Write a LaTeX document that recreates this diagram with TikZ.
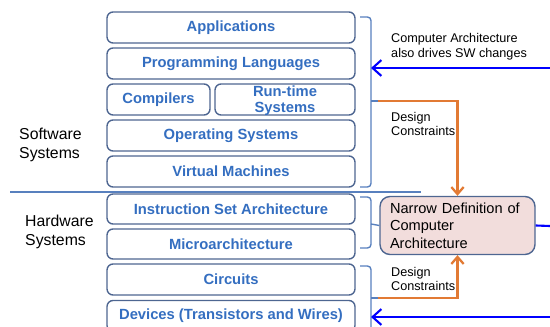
\documentclass[tikz,border=0pt]{standalone}
\usepackage{fontspec}
\setmainfont{Liberation Sans}
\usetikzlibrary{arrows.meta}
\definecolor{boxline}{RGB}{78,102,145}
\definecolor{boxtext}{RGB}{52,110,192}
\definecolor{brack}{RGB}{88,128,190}
\definecolor{orng}{RGB}{226,122,52}
\definecolor{pinkfill}{RGB}{242,221,220}

\begin{document}
\begin{tikzpicture}[x=0.02cm,y=-0.02cm,
    layertext/.style={inner sep=0pt,text=boxtext,align=center,
      font=\bfseries\fontsize{8.4}{9}\selectfont},
    layer/.style={layertext,draw=boxline,line width=0.8pt,rounded corners=0.12cm,
      minimum width=4.96cm,minimum height=0.62cm},
    hwlayer/.style={layer,minimum height=0.6cm},
    side/.style={anchor=west,align=left,font=\fontsize{9}{10.8}\selectfont},
    note/.style={anchor=west,align=left,font=\fontsize{7.2}{8.5}\selectfont},
    bracket/.style={draw=brack,line width=0.8pt,rounded corners=2pt},
    bluearrow/.style={draw=blue,line width=1.2pt,arrows={-Straight Barb[length=5pt,width=9pt]}},
    orangearrow/.style={draw=orng,line width=1.3pt,arrows={-Straight Barb[length=4pt,width=7pt]}}]
  \clip (0,0) rectangle (550,327);

  % software layers
  \node[layer] (apps) at (231,27.5) {Applications};
  \node[layer] (lang) at (231,63.5) {Programming Languages};
  \node[layer,minimum width=2.06cm] (comp) at (158.5,99.5) {Compilers};
  \node[layer,minimum width=2.8cm] (rts) at (285,99.5) {};
  \node[layertext] (rtstext) at (285,100.5) {Run-time\\Systems};
  \node[layer] (os) at (231,135.5) {Operating Systems};
  \node[layer] (vm) at (231,171.5) {Virtual Machines};

  % hardware layers
  \node[hwlayer] (isa) at (231,209) {Instruction Set Architecture};
  \node[hwlayer] (march) at (231,244) {Microarchitecture};
  \node[layer] (circ) at (231,279.5) {Circuits};
  \node[layer] (dev) at (231,316) {Devices (Transistors and Wires)};

  \draw[brack,line width=0.6pt] (10,192) -- (421,192);

  \node[side] (sw) at (13,145) {Software\\Systems};
  \node[side] (hw) at (19,231.5) {Hardware\\Systems};

  \node[draw=boxline,line width=0.8pt,fill=pinkfill,rounded corners=0.2cm,
    minimum width=3.1cm,minimum height=1.16cm,text width=2.7cm,align=left,
    font=\fontsize{8.3}{9.9}\selectfont] (narrow) at (457.5,225.5)
    {Narrow Definition of\\Computer\\Architecture};

  % brackets
  \draw[bracket] (360,17) -- (371,17) -- (371,187) -- (360,187);
  \draw[bracket] (360,197) -- (371,197) -- (371,248) -- (360,248);
  \draw[bracket] (360,266) -- (371,266) -- (371,340);
  \coordinate (swtick) at (378,101);
  \coordinate (hwtick) at (378,298);
  \draw[bracket] (371,101) -- (swtick);
  \draw[bracket] (371,298) -- (hwtick);
  \draw[bracket] (371,224) -- (narrow.west);

  \node[note] (drives) at (385,46.5) {Computer Architecture\\also drives SW changes};
  \node[note] (dc1) at (385,124) {Design\\Constraints};
  \node[note] (dc2) at (385,279) {Design\\Constraints};

  % arrows
  \coordinate (topin) at (550,68);
  \coordinate (topend) at (371,68);
  \coordinate (botin) at (550,317);
  \coordinate (botend) at (371,317);
  \coordinate (out) at (550,226);
  \draw[bluearrow] (topin) -- (topend);
  \draw[bluearrow] (botin) -- (botend);
  \draw[blue,line width=1.2pt] (narrow.east) -- (out);
  \draw[orangearrow] (swtick) -| (narrow.north);
  \draw[orangearrow] (hwtick) -| (narrow.south);
\end{tikzpicture}
\end{document}
